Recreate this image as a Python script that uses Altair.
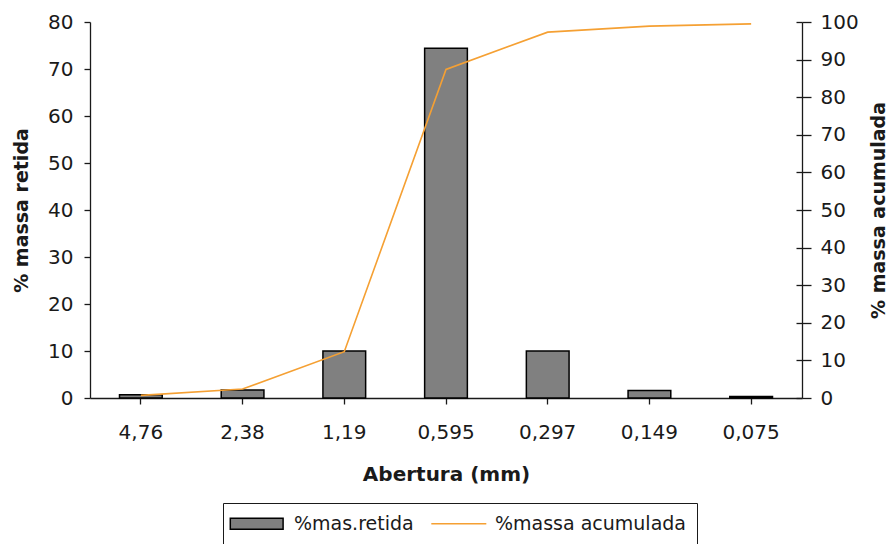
import altair as alt
import pandas as pd

# Sieve openings (mm) and mass fractions (%)
aberturas = ["4,76", "2,38", "1,19", "0,595", "0,297", "0,149", "0,075"]
retida = [0.7, 1.7, 10.0, 74.4, 10.0, 1.6, 0.3]
acumulada = [0.7, 2.4, 12.3, 87.4, 97.3, 98.9, 99.5]
series = ["%mas.retida", "%massa acumulada"]

FONT = "DejaVu Sans"
GRAY = "#808080"
ORANGE = "#F5A033"
INK = "#1a1a1a"

df = pd.DataFrame({"abertura": aberturas, "retida": retida, "acumulada": acumulada})

x_enc = alt.X(
    "abertura:N",
    sort=aberturas,
    scale=alt.Scale(paddingInner=0.58, paddingOuter=0.29),
    axis=alt.Axis(
        title="Abertura (mm)",
        labelAngle=0,
        tickSize=6,
        labelPadding=18,
        titlePadding=22,
        labelFontSize=20,
        titleFontSize=20,
        titleFontWeight="bold",
    ),
)

# legend swatches: a wide bar and a plain stroke
bar_shape = "M-2.2,-0.92L6.6,-0.92L6.6,0.92L-2.2,0.92Z"
line_shape = "M-2.2,0L6.97,0"

legend = alt.Legend(
    title=None,
    orient="none",
    direction="horizontal",
    legendX=133,
    legendY=481,
    padding=11,
    strokeColor=INK,
    fillColor="white",
    symbolSize=144,
    symbolStrokeWidth=1.5,
    symbolOpacity=1,
    labelOffset=41,
    labelLimit=400,
    columnPadding=14,
    labelFontSize=19,
    labelColor=INK,
    labelFont=FONT,
)

bars = (
    alt.Chart(df)
    .mark_bar(fill=GRAY, stroke="black", strokeWidth=1.5)
    .encode(
        x=x_enc,
        y=alt.Y(
            "retida:Q",
            scale=alt.Scale(domain=[0, 80]),
            axis=alt.Axis(
                title="% massa retida",
                values=list(range(0, 81, 10)),
                tickSize=6,
                labelPadding=11,
                titlePadding=16,
                labelFontSize=20,
                titleFontSize=19,
                titleFontWeight="bold",
            ),
        ),
    )
)

line = (
    alt.Chart(df)
    .mark_line(stroke=ORANGE, strokeWidth=1.6)
    .encode(
        x=x_enc,
        y=alt.Y(
            "acumulada:Q",
            scale=alt.Scale(domain=[0, 100]),
            axis=alt.Axis(
                orient="right",
                title="% massa acumulada",
                titleAngle=270,
                values=list(range(0, 101, 10)),
                tickSize=9,
                labelPadding=9,
                titlePadding=30,
                labelFontSize=20,
                titleFontSize=19,
                titleFontWeight="bold",
            ),
        ),
    )
)

# invisible layer: inner half of the right-axis ticks + the legend entries
legend_layer = (
    alt.Chart(df)
    .transform_calculate(serie=f"datum.retida > 5 ? '{series[0]}' : '{series[1]}'")
    .mark_point(opacity=0)
    .encode(
        x=x_enc,
        y=alt.Y(
            "acumulada:Q",
            scale=alt.Scale(domain=[0, 100]),
            axis=alt.Axis(
                orient="right",
                offset=-6,
                tickSize=6,
                labels=False,
                domain=False,
                title=None,
                values=list(range(0, 101, 10)),
            ),
        ),
        fill=alt.Fill("serie:N", scale=alt.Scale(domain=series, range=[GRAY, "transparent"]), legend=legend),
        stroke=alt.Stroke("serie:N", scale=alt.Scale(domain=series, range=["black", ORANGE]), legend=legend),
        shape=alt.Shape("serie:N", scale=alt.Scale(domain=series, range=[bar_shape, line_shape]), legend=legend),
    )
)

chart = (
    alt.layer(bars, line, legend_layer)
    .resolve_scale(y="independent")
    .properties(
        width=712,
        height=376,
        padding={"left": 90, "top": 22, "right": 91, "bottom": 146},
        autosize=alt.AutoSizeParams(type="none"),
    )
    .configure(font=FONT)
    .configure_view(stroke=None)
    .configure_axis(
        grid=False,
        domainColor=INK,
        tickColor=INK,
        labelColor=INK,
        titleColor=INK,
        domainWidth=1.3,
        tickWidth=1.3,
        labelFont=FONT,
        titleFont=FONT,
    )
)

chart.save("out.html", embed_options={"renderer": "svg", "actions": False})
